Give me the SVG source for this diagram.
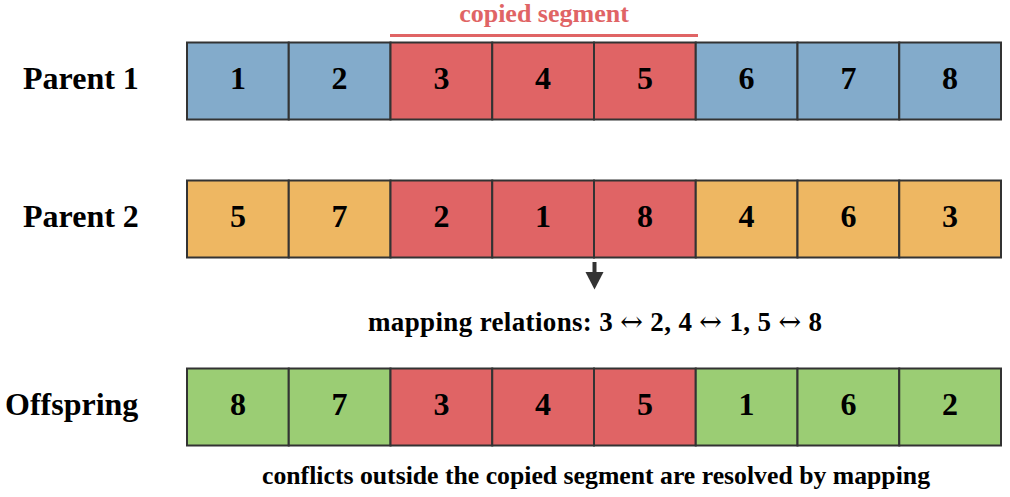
<svg xmlns="http://www.w3.org/2000/svg" width="1010" height="497" viewBox="0 0 1010 497">
<defs>
<style>
text{font-family:"Liberation Serif","DejaVu Serif",serif;font-weight:bold;fill:#000}
.lbl{font-size:32px}
.num{font-size:32px;text-anchor:middle}
.cell{stroke:#333;stroke-width:2}
.b{fill:#83ABCB}.r{fill:#E06465}.o{fill:#EEB762}.g{fill:#9BCD74}
.cap{font-size:26px;text-anchor:middle}
.arr{font-family:"DejaVu Serif",serif;font-weight:normal}
</style>
</defs>
<rect width="1010" height="497" fill="#fff"/>
<g id="segment-label">
<text class="cap" x="544" y="22" style="fill:#E06465">copied segment</text>
<line x1="390" y1="35.5" x2="698" y2="35.5" stroke="#E06465" stroke-width="3"/>
</g>
<g id="parent1">
<text class="lbl" x="23" y="89">Parent 1</text>
<rect class="cell b" x="187" y="42.5" width="101.75" height="77"/>
<rect class="cell b" x="288.75" y="42.5" width="101.75" height="77"/>
<rect class="cell r" x="390.5" y="42.5" width="101.75" height="77"/>
<rect class="cell r" x="492.25" y="42.5" width="101.75" height="77"/>
<rect class="cell r" x="594" y="42.5" width="101.75" height="77"/>
<rect class="cell b" x="695.75" y="42.5" width="101.75" height="77"/>
<rect class="cell b" x="797.5" y="42.5" width="101.75" height="77"/>
<rect class="cell b" x="899.25" y="42.5" width="101.75" height="77"/>
<text class="num" x="237.9" y="89">1</text>
<text class="num" x="339.6" y="89">2</text>
<text class="num" x="441.4" y="89">3</text>
<text class="num" x="543.1" y="89">4</text>
<text class="num" x="644.9" y="89">5</text>
<text class="num" x="746.6" y="89">6</text>
<text class="num" x="848.4" y="89">7</text>
<text class="num" x="950.1" y="89">8</text>
</g>
<g id="parent2">
<text class="lbl" x="23" y="227">Parent 2</text>
<rect class="cell o" x="187" y="180.5" width="101.75" height="77"/>
<rect class="cell o" x="288.75" y="180.5" width="101.75" height="77"/>
<rect class="cell r" x="390.5" y="180.5" width="101.75" height="77"/>
<rect class="cell r" x="492.25" y="180.5" width="101.75" height="77"/>
<rect class="cell r" x="594" y="180.5" width="101.75" height="77"/>
<rect class="cell o" x="695.75" y="180.5" width="101.75" height="77"/>
<rect class="cell o" x="797.5" y="180.5" width="101.75" height="77"/>
<rect class="cell o" x="899.25" y="180.5" width="101.75" height="77"/>
<text class="num" x="237.9" y="227">5</text>
<text class="num" x="339.6" y="227">7</text>
<text class="num" x="441.4" y="227">2</text>
<text class="num" x="543.1" y="227">1</text>
<text class="num" x="644.9" y="227">8</text>
<text class="num" x="746.6" y="227">4</text>
<text class="num" x="848.4" y="227">6</text>
<text class="num" x="950.1" y="227">3</text>
</g>
<g id="connectors">
<line x1="594.5" y1="262" x2="594.5" y2="274" stroke="#333" stroke-width="4"/>
<polygon points="585.5,272 603.5,272 594.5,289.5" fill="#333"/>
</g>
<g id="mapping">
<text x="368" y="331" style="font-size:27px" textLength="454" lengthAdjust="spacing">mapping relations: 3 <tspan class="arr">↔</tspan> 2, 4 <tspan class="arr">↔</tspan> 1, 5 <tspan class="arr">↔</tspan> 8</text>
</g>
<g id="offspring">
<text class="lbl" x="5" y="415">Offspring</text>
<rect class="cell g" x="187" y="368.5" width="101.75" height="77"/>
<rect class="cell g" x="288.75" y="368.5" width="101.75" height="77"/>
<rect class="cell r" x="390.5" y="368.5" width="101.75" height="77"/>
<rect class="cell r" x="492.25" y="368.5" width="101.75" height="77"/>
<rect class="cell r" x="594" y="368.5" width="101.75" height="77"/>
<rect class="cell g" x="695.75" y="368.5" width="101.75" height="77"/>
<rect class="cell g" x="797.5" y="368.5" width="101.75" height="77"/>
<rect class="cell g" x="899.25" y="368.5" width="101.75" height="77"/>
<text class="num" x="237.9" y="415">8</text>
<text class="num" x="339.6" y="415">7</text>
<text class="num" x="441.4" y="415">3</text>
<text class="num" x="543.1" y="415">4</text>
<text class="num" x="644.9" y="415">5</text>
<text class="num" x="746.6" y="415">1</text>
<text class="num" x="848.4" y="415">6</text>
<text class="num" x="950.1" y="415">2</text>
</g>
<g id="caption">
<text x="262" y="484" style="font-size:26px" textLength="668" lengthAdjust="spacingAndGlyphs">conflicts outside the copied segment are resolved by mapping</text>
</g>
</svg>
